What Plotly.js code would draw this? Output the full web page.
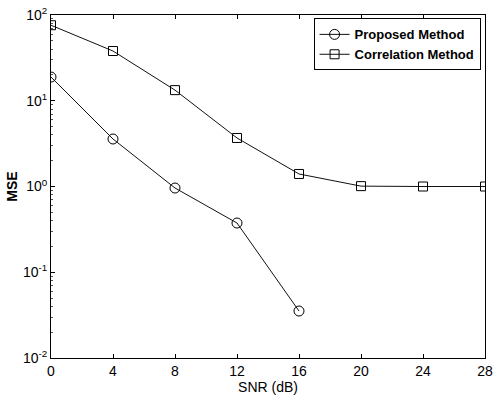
<!DOCTYPE html>
<html>
<head>
<meta charset="utf-8">
<script src="https://cdn.plot.ly/plotly-3.0.1.min.js"></script>
<style>
  html, body { margin: 0; padding: 0; background: #fff; }
  #chart { width: 499px; height: 396px; }
</style>
</head>
<body>
<div id="chart"></div>
<script>
// SNR sweep (dB)
const snrProposed = [0, 4, 8, 12, 16];
const snrCorrelation = [0, 4, 8, 12, 16, 20, 24, 28];

// Mean squared error of each estimator
const mseProposed = [18.9, 3.58, 0.96, 0.375, 0.0353];
const mseCorrelation = [76, 38, 13.3, 3.68, 1.40, 1.01, 1.0, 1.0];

// Axis ticks
const xTicks = [0, 4, 8, 12, 16, 20, 24, 28];
const yTicks = [0.01, 0.1, 1, 10, 100];
const yTickLabels = ['10<sup>-2</sup>', '10<sup>-1</sup>', '10<sup>0</sup>', '10<sup>1</sup>', '10<sup>2</sup>'];

const family = 'Liberation Sans, Arial, sans-serif';
const tickFont = { family: family, size: 14, color: '#000' };
const titleFont = { family: family, size: 14, color: '#000' };

const traces = [
  {
    x: snrProposed, y: mseProposed, name: '<b>Proposed Method</b>',
    type: 'scatter', mode: 'lines+markers',
    line: { color: '#111', width: 1 },
    marker: { symbol: 'circle-open', size: 10, color: '#000', line: { width: 1, color: '#000' } }
  },
  {
    x: snrCorrelation, y: mseCorrelation, name: '<b>Correlation Method</b>',
    type: 'scatter', mode: 'lines+markers',
    line: { color: '#111', width: 1 },
    marker: { symbol: 'square-open', size: 9, color: '#000', line: { width: 1, color: '#000' } }
  }
];

const layout = {
  width: 499, height: 396,
  margin: { l: 51, r: 14, t: 15, b: 38 },
  paper_bgcolor: '#fff', plot_bgcolor: '#fff',
  font: tickFont,
  showlegend: true,
  legend: {
    x: 0.605, y: 0.99, xanchor: 'left', yanchor: 'top',
    bgcolor: '#fff', bordercolor: '#000', borderwidth: 1,
    font: { family: family, size: 13, color: '#000' },
    tracegroupgap: 0, itemwidth: 30
  },
  xaxis: {
    range: [0, 28], tickvals: xTicks, ticktext: xTicks.map(String),
    ticks: 'inside', ticklen: 4, tickcolor: '#000',
    showline: true, linecolor: '#000', linewidth: 1, mirror: 'ticks',
    showgrid: false, zeroline: false,
    tickfont: tickFont,
    title: { text: 'SNR (dB)', font: titleFont, standoff: 0 }
  },
  yaxis: {
    type: 'log', range: [-2, 2],
    tickvals: yTicks, ticktext: yTickLabels,
    ticks: 'inside', ticklen: 4, tickcolor: '#000',
    minor: { ticks: 'inside', ticklen: 2, tickcolor: '#555', showgrid: false, dtick: 'D1' },
    showline: true, linecolor: '#000', linewidth: 1, mirror: true,
    showgrid: false, zeroline: false,
    tickfont: tickFont,
    title: { text: '<b>MSE</b>', font: titleFont, standoff: 2 }
  }
};

Plotly.newPlot('chart', traces, layout, { displayModeBar: false, staticPlot: true });
</script>
</body>
</html>
